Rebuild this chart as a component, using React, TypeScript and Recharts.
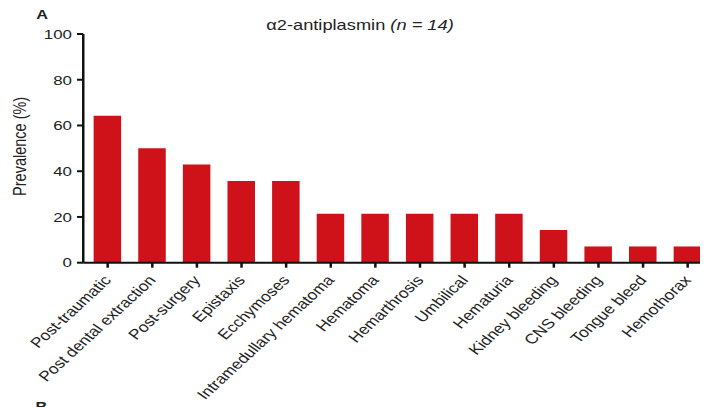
import React from "react";
import { BarChart, Bar, XAxis, YAxis } from "recharts";

// Bleeding symptoms reported in α2-antiplasmin deficiency (n = 14)
const categories: string[] = [
  "Post-traumatic",
  "Post dental extraction",
  "Post-surgery",
  "Epistaxis",
  "Ecchymoses",
  "Intramedullary hematoma",
  "Hematoma",
  "Hemarthrosis",
  "Umbilical",
  "Hematuria",
  "Kidney bleeding",
  "CNS bleeding",
  "Tongue bleed",
  "Hemothorax",
];

const prevalence: number[] = [
  64.3, 50, 42.9, 35.7, 35.7, 21.4, 21.4, 21.4, 21.4, 21.4, 14.3, 7.1, 7.1, 7.1,
];

const yTicks: number[] = [0, 20, 40, 60, 80, 100];

const data = categories.map((name, i) => ({ name, value: prevalence[i] }));

const FONT = '"Liberation Sans", Arial, Helvetica, sans-serif';
const INK = "#222";
const BAR_RED = "#cf1119";
const SCALE_X = 1.25;

const CategoryTick = (props: any) => {
  const { x, y, payload } = props;
  return (
    <g transform={`translate(${x + 3.5},${y + 11})`}>
      <text
        x={0}
        y={0}
        textAnchor="end"
        transform="rotate(-49)"
        fontSize={14}
        fontFamily={FONT}
        fill={INK}
      >
        {payload.value}
      </text>
    </g>
  );
};

const YAxisTitle = (props: any) => {
  const { viewBox } = props;
  const cy = viewBox.y + viewBox.height / 2 - 2;
  const cx = 8.8;
  return (
    <text
      x={cx}
      y={cy}
      transform={`rotate(-90, ${cx}, ${cy})`}
      textAnchor="middle"
      dominantBaseline="central"
      fontSize={14.5}
      fontFamily={FONT}
      fill={INK}
    >
      Prevalence (%)
    </text>
  );
};

export default function App() {
  return (
    <div
      style={{
        width: 700,
        height: 399,
        overflow: "hidden",
        position: "relative",
        background: "#fff",
      }}
    >
      <div
        style={{
          position: "relative",
          width: 575,
          height: 399,
          transform: `scaleX(${SCALE_X})`,
          transformOrigin: "0 0",
          fontFamily: FONT,
          color: INK,
        }}
      >
        <div
          style={{
            position: "absolute",
            left: 22.5,
            top: 0,
            fontSize: 13,
            fontWeight: "bold",
            lineHeight: "13px",
          }}
        >
          A
        </div>
        <div
          style={{
            position: "absolute",
            left: 181.6,
            width: 200,
            top: 9,
            textAlign: "center",
            fontSize: 14.6,
            lineHeight: "16px",
            whiteSpace: "nowrap",
          }}
        >
          α2-antiplasmin <i>(n = 14)</i>
        </div>
        <div
          style={{
            position: "absolute",
            left: 22,
            top: 392,
            fontSize: 13,
            fontWeight: "bold",
            lineHeight: "14px",
          }}
        >
          B
        </div>
        <BarChart
          width={575}
          height={399}
          data={data}
          margin={{ top: 26, right: 13.4, left: 0, bottom: 0 }}
          barCategoryGap="18.5%"
        >
          <XAxis
            dataKey="name"
            interval={0}
            height={144.3}
            tick={<CategoryTick />}
            tickSize={5}
            tickLine={{ stroke: "#111", strokeWidth: 2 }}
            axisLine={{ stroke: "#111", strokeWidth: 2 }}
            padding={{ left: 1.7, right: 0 }}
          />
          <YAxis
            type="number"
            domain={[0, 100]}
            ticks={yTicks}
            interval={0}
            width={60.2}
            tickSize={5}
            tickMargin={4}
            tick={{ fontSize: 13.5, fill: INK, fontFamily: FONT }}
            tickLine={{ stroke: "#111", strokeWidth: 2 }}
            axisLine={{ stroke: "#111", strokeWidth: 2 }}
            label={<YAxisTitle />}
          />
          <Bar dataKey="value" fill={BAR_RED} isAnimationActive={false} />
        </BarChart>
      </div>
    </div>
  );
}
